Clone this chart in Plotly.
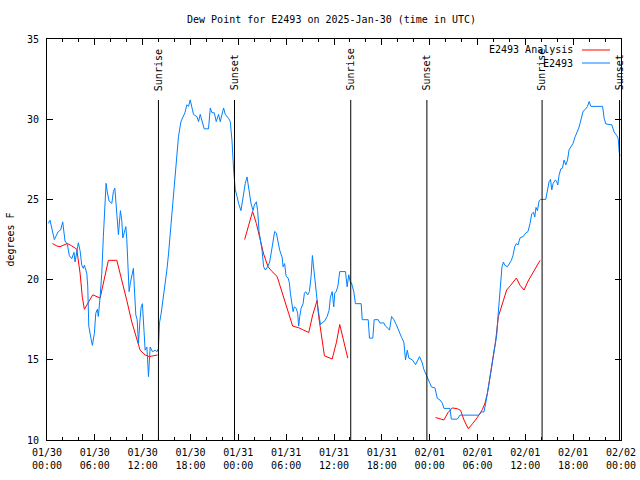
import pandas as pd
import plotly.graph_objects as go

BASE = pd.Timestamp("2025-01-30 00:00")

# Observed dew point (E2493): hours after 01/30 00:00 UTC, degrees F
obs_hours = [0.16, 0.38, 0.92, 1.42, 1.72, 1.97, 2.26, 2.55, 2.80, 3.10, 3.39, 3.52, 3.93, 4.15, 4.36,
             4.56, 4.69, 4.99, 5.11, 5.24, 5.49, 5.69, 5.94, 6.12, 6.32, 6.44, 6.66, 6.87, 7.07, 7.20,
             7.41, 7.58, 7.79, 8.13, 8.33, 8.51, 8.67, 8.83, 8.96, 9.21, 9.38, 9.51, 9.71, 9.89, 10.01,
             10.14, 10.30, 10.46, 10.68, 10.84, 10.97, 11.14, 11.31, 11.47, 11.65, 11.81, 11.97, 12.15,
             12.31, 12.53, 12.73, 12.94, 13.23, 13.57, 13.78, 13.98, 14.11, 14.32, 14.61, 14.82, 15.04,
             15.24, 15.45, 15.67, 15.87, 16.08, 16.29, 16.49, 16.80, 17.00, 17.30, 17.55, 17.75, 17.96,
             18.18, 18.38, 18.81, 19.01, 19.22, 19.43, 19.72, 20.26, 20.48, 20.69, 20.98, 21.23, 21.52,
             21.73, 21.95, 22.15, 22.36, 22.78, 22.99, 23.20, 23.40, 23.53, 23.62, 23.83, 24.03, 24.33,
             24.66, 24.87, 25.09, 25.29, 25.59, 25.84, 26.01, 26.26, 26.42, 26.60, 26.76, 26.97, 27.17,
             27.39, 27.68, 27.93, 28.10, 28.35, 28.56, 28.77, 28.98, 29.18, 29.49, 29.61, 29.81, 29.99,
             30.24, 30.40, 30.53, 30.65, 30.87, 31.03, 31.28, 31.44, 31.57, 31.70, 31.87, 32.12, 32.29,
             32.45, 32.70, 32.91, 33.13, 33.29, 33.46, 33.63, 33.79, 33.96, 34.13, 34.30, 34.51, 34.80,
             35.14, 35.39, 35.55, 35.77, 35.97, 36.09, 36.27, 36.47, 36.72, 37.44, 37.65, 37.85, 38.07,
             38.19, 38.48, 38.69, 39.41, 39.54, 40.29, 40.45, 40.87, 41.04, 41.55, 41.75, 42.25, 42.46,
             42.80, 42.96, 43.22, 43.51, 43.81, 44.13, 44.47, 44.76, 44.89, 44.97, 45.19, 45.39, 45.82,
             46.23, 46.73, 47.07, 47.27, 47.49, 47.70, 47.99, 48.24, 48.66, 48.96, 49.28, 49.59, 49.79,
             50.54, 50.72, 51.47, 51.80, 54.18, 54.49, 54.81, 55.03, 55.24, 55.44, 55.65, 55.87, 56.07,
             56.28, 56.41, 56.57, 56.75, 56.91, 57.07, 57.25, 57.41, 57.75, 58.04, 58.25, 58.45, 58.67,
             58.88, 59.08, 59.33, 59.76, 60.05, 60.34, 60.59, 60.80, 61.02, 61.18, 61.34, 61.52, 61.72,
             61.93, 62.56, 62.78, 62.98, 63.16, 63.32, 63.49, 63.74, 63.91, 64.07, 64.23, 64.45, 64.66,
             64.86, 65.08, 65.29, 65.49, 65.70, 65.99, 66.24, 66.46, 66.67, 66.87, 67.09, 67.25, 67.50,
             67.80, 68.00, 68.22, 68.63, 69.69, 69.89, 70.10, 70.85, 71.14, 71.44, 71.65, 71.77, 71.86]
obs_dewpt = [23.5, 23.7, 22.5, 23.0, 23.1, 23.6, 22.4, 22.2, 21.5, 21.3, 21.7, 21.1, 22.3, 21.8, 20.9,
             20.7, 20.9, 20.4, 19.6, 17.1, 16.4, 15.9, 16.65, 17.9, 18.15, 17.7, 18.9, 20.4, 22.7, 24.1,
             26.0, 25.4, 24.9, 24.75, 25.5, 25.7, 24.5, 23.7, 22.8, 24.3, 23.7, 22.6, 22.9, 23.3, 22.5,
             21.0, 19.25, 19.8, 20.4, 20.7, 19.35, 17.8, 17.5, 16.0, 17.4, 18.3, 18.5, 16.85,
             15.6, 15.8, 13.95, 15.8, 15.5, 15.6, 15.5, 15.7, 17.3, 17.9, 18.9, 19.8, 20.6,
             21.6, 22.9, 24.1, 25.4, 26.7, 28.0, 28.9, 29.85, 30.05, 30.4, 30.9, 30.8, 31.2,
             30.7, 30.3, 30.15, 29.85, 30.3, 29.85, 29.4, 29.4, 30.7, 30.4, 30.4, 29.85, 30.3,
             29.85, 30.4, 30.7, 30.3, 30.05, 29.85, 28.7, 26.9, 26.1, 25.6, 25.2, 24.75, 24.3,
             25.5, 26.0, 26.4, 25.8, 24.75, 24.3, 24.65, 24.85, 24.3, 23.0, 22.5, 21.85, 20.8,
             20.6, 20.8, 21.1, 21.6, 22.5, 23.0, 22.9, 22.4, 21.85, 21.4, 20.8, 21.0, 20.2,
             20.1, 19.8, 19.15, 18.7, 18.0, 18.3, 18.2, 17.9, 17.1, 17.7, 18.2, 18.5, 19.15,
             19.25, 19.05, 19.25, 20.2, 21.5, 20.8, 19.8, 19.15, 18.3, 17.7, 17.2, 17.3, 17.4,
             17.7, 18.1, 18.9, 19.25, 18.3, 19.15, 19.25, 19.55, 20.5, 20.5, 19.55, 20.3, 19.8,
             19.8, 19.25, 18.5, 18.5, 17.5, 17.5, 16.35, 16.35, 17.5, 17.5, 17.3, 17.3, 17.1,
             16.95, 16.85, 17.7, 17.5, 17.2, 16.75, 16.4, 16.1, 15.4, 15.0, 15.6, 15.1, 15.0,
             14.7, 15.2, 14.8, 14.4, 14.15, 13.85, 13.5, 13.3, 13.25, 12.6, 12.5, 12.3, 11.97,
             11.97, 11.3, 11.3, 11.55, 11.55, 11.75, 11.75, 12.3, 13.1, 13.5, 14.15, 14.9, 15.6,
             16.1, 16.55, 17.7, 18.9, 19.95, 20.8, 21.1, 20.9, 20.8, 21.0, 21.2, 21.5, 22.05,
             22.25, 22.15, 22.6, 22.7, 22.9, 23.0, 23.5, 24.1, 24.2, 23.9, 24.5, 24.3, 24.9,
             25.0, 25.0, 25.6, 26.1, 26.25, 25.6, 26.0, 26.2, 26.15, 25.9, 26.5, 26.9, 26.95,
             27.45, 27.15, 27.45, 28.1, 28.3, 28.5, 28.9, 29.15, 29.4, 29.75, 30.15, 30.5, 30.6,
             30.8, 31.1, 30.8, 30.8, 30.8, 30.05, 29.7, 29.65, 29.2, 29.0, 28.8, 28.0, 27.7]

# Analysis dew point (E2493 Analysis); None marks gaps
ana_hours = [0.67, 1.22, 1.63, 2.05, 2.55, 3.10, 3.73, 4.15, 4.43, 4.69, 5.11, 5.74, 6.66, 7.29, 7.70,
             8.76, 9.38, 10.01, 10.64, 11.27, 11.68, 12.31, 12.81, 13.35, 13.86, 19.0,
             24.79, 25.29, 25.79, 26.26, 26.67, 27.17, 27.73, 28.23, 28.86, 29.36, 29.81, 30.31, 30.82,
             31.57, 32.20, 32.83, 33.33, 33.88, 34.08, 34.38, 34.80, 35.77, 36.31, 36.72, 37.22, 37.73, 43.0,
             48.74, 49.28, 49.79, 50.29, 50.84, 51.47, 51.88, 52.30, 52.85, 53.43, 53.98, 54.61, 54.94,
             55.24, 55.57, 55.94, 56.28, 56.62, 57.12, 57.66, 58.17, 58.88, 59.33, 59.84, 60.34, 60.89,
             61.39, 61.85]
ana_dewpt = [22.25, 22.1, 22.05, 22.15, 22.25, 22.1, 21.9, 20.4, 18.9, 18.15, 18.5, 19.05, 18.85, 20.3, 21.2,
             21.2, 20.0, 18.7, 17.35, 16.2, 15.6, 15.3, 15.2, 15.25, 15.3, None,
             22.5, 23.4, 24.25, 23.5, 22.7, 21.6, 20.8, 20.5, 20.2, 19.45, 18.7, 17.9, 17.1,
             17.0, 16.85, 16.7, 17.8, 18.7, 17.7, 16.65, 15.25, 15.05, 16.1, 17.2, 16.2, 15.1, None,
             11.4, 11.33, 11.25, 11.7, 12.0, 11.95, 11.85, 11.25, 10.7, 11.05, 11.4, 11.9, 12.3,
             12.9, 13.95, 15.0, 16.2, 17.7, 18.5, 19.35, 19.65, 20.1, 19.65, 19.35, 19.9, 20.35,
             20.8, 21.2]

# Sun events (hours after start)
sun_hours = [13.98, 23.52, 38.10, 47.65, 62.10, 71.82]
sun_labels = ["Sunrise", "Sunset", "Sunrise", "Sunset", "Sunrise", "Sunset"]

# X tick labels every 6 hours
tick_hours = [0, 6, 12, 18, 24, 30, 36, 42, 48, 54, 60, 66, 72]
tick_labels = ["01/30<br>00:00", "01/30<br>06:00", "01/30<br>12:00", "01/30<br>18:00",
               "01/31<br>00:00", "01/31<br>06:00", "01/31<br>12:00", "01/31<br>18:00",
               "02/01<br>00:00", "02/01<br>06:00", "02/01<br>12:00", "02/01<br>18:00",
               "02/02<br>00:00"]

def to_time(hours):
    return [BASE + pd.Timedelta(hours=h) for h in hours]

FONT = "DejaVu Sans Mono"
RED = "#ff0000"
BLUE = "#0080ff"

fig = go.Figure()
fig.add_trace(go.Scatter(x=to_time(ana_hours), y=ana_dewpt, mode="lines",
                         line=dict(color=RED, width=1), name="E2493 Analysis",
                         connectgaps=False))
fig.add_trace(go.Scatter(x=to_time(obs_hours), y=obs_dewpt, mode="lines",
                         line=dict(color=BLUE, width=1), name="E2493"))

for h, lab in zip(sun_hours, sun_labels):
    t = BASE + pd.Timedelta(hours=h)
    fig.add_shape(type="line", xref="x", yref="paper", x0=t, x1=t, y0=0, y1=0.848,
                  line=dict(color="black", width=1))
    fig.add_annotation(x=t, xref="x", y=0.866, yref="paper", text=lab, textangle=-90,
                       showarrow=False, xanchor="center", yanchor="bottom",
                       font=dict(family=FONT, size=10, color="black"))

# Legend drawn gnuplot-style (text right, sample line)
legend_items = [("E2493 Analysis", RED), ("E2493", BLUE)]
for i, (name, col) in enumerate(legend_items):
    ypix = 50 + i * 13
    yp = (440 - ypix) / 401
    fig.add_annotation(x=(575 - 47) / 574, xref="paper", y=yp, yref="paper", text=name,
                       showarrow=False, xanchor="right", yanchor="middle",
                       font=dict(family=FONT, size=10, color="black"))
    fig.add_shape(type="line", xref="paper", yref="paper",
                  x0=(582 - 47) / 574, x1=(610 - 47) / 574, y0=yp, y1=yp,
                  line=dict(color=col, width=1))

fig.update_layout(
    width=640, height=480,
    margin=dict(l=47, r=19, t=39, b=40, autoexpand=False),
    paper_bgcolor="white", plot_bgcolor="white",
    showlegend=False,
    font=dict(family=FONT, size=10, color="black"),
    title=dict(text="Dew Point for E2493 on 2025-Jan-30 (time in UTC)", x=0.518, xref="container",
               xanchor="center", y=0.96, yref="container", yanchor="middle",
               font=dict(family=FONT, size=10, color="black")),
)
fig.update_xaxes(
    range=[BASE, BASE + pd.Timedelta(hours=72)],
    tickvals=to_time(tick_hours), ticktext=tick_labels,
    ticks="inside", ticklen=6, tickcolor="black", tickwidth=1,
    minor=dict(dtick=2 * 3600 * 1000, ticks="inside", ticklen=3, tickcolor="black"),
    showline=True, linecolor="black", linewidth=1, mirror="ticks",
    showgrid=False, zeroline=False, automargin=False,
    ticklabelstandoff=3,
    tickfont=dict(family=FONT, size=10, color="black"),
)
fig.update_yaxes(
    range=[10, 35], dtick=5, tick0=10,
    ticks="inside", ticklen=6, tickcolor="black", tickwidth=1,
    showline=True, linecolor="black", linewidth=1, mirror="ticks",
    showgrid=False, zeroline=False, automargin=False,
    ticklabelstandoff=5,
    title=dict(text="degrees F", font=dict(family=FONT, size=10, color="black"), standoff=10),
    tickfont=dict(family=FONT, size=10, color="black"),
)

fig.write_html("out.html", config={"displayModeBar": False},
               post_script="document.body.style.margin='0';")
